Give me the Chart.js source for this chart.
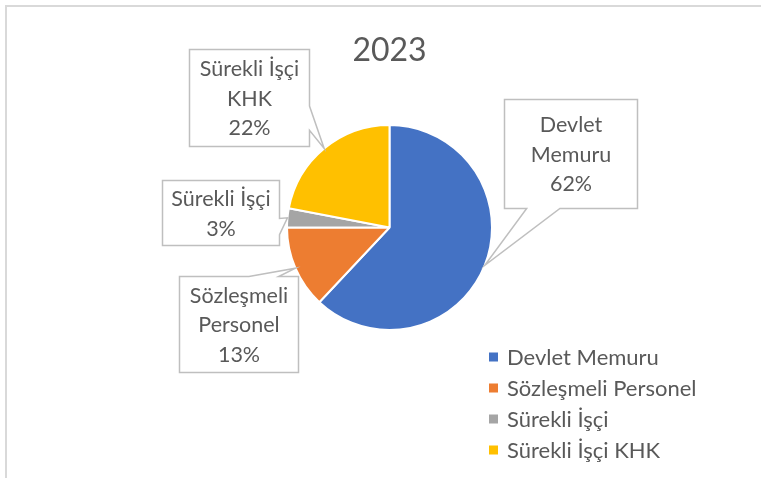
<!DOCTYPE html>
<html>
<head>
<meta charset="utf-8">
<script src="https://cdn.jsdelivr.net/npm/chart.js@4.4.0/dist/chart.umd.min.js"></script>
<style>
  html, body { margin: 0; padding: 0; background: #ffffff; }
  #wrap { width: 761px; height: 478px; position: relative; }
</style>
</head>
<body>
<div id="wrap"><canvas id="c" width="761" height="478"></canvas></div>
<script>
// ---- data ----
const categories = ['Devlet Memuru', 'Sözleşmeli Personel', 'Sürekli İşçi', 'Sürekli İşçi KHK'];
const values = [62, 13, 3, 22];
const colors = ['#4472C4', '#ED7D31', '#A5A5A5', '#FFC000'];
const chartTitle = '2023';

// ---- callout box layout (offsets from pie centre, px) ----
const calloutBoxes = [
  { dx: 115, dy: -128, w: 133, h: 109 },
  { dx: -210, dy: 49, w: 119, h: 96 },
  { dx: -227, dy: -47, w: 117, h: 65 },
  { dx: -200, dy: -178, w: 120, h: 97 }
];

const FONT = 'Lato, "Open Sans", sans-serif';
const TEXT = '#595959';

function wrapWords(ctx, text, maxW) {
  const words = text.split(' ');
  const lines = [];
  let cur = '';
  for (const w of words) {
    const t = cur ? cur + ' ' + w : w;
    if (ctx.measureText(t).width > maxW && cur) { lines.push(cur); cur = w; }
    else cur = t;
  }
  if (cur) lines.push(cur);
  return lines;
}

function calloutPath(ctx, x, y, w, h, tx, ty) {
  const cx = x + w / 2, cy = y + h / 2;
  const dx = tx - cx, dy = ty - cy;
  ctx.beginPath();
  if (Math.abs(dx) * h > Math.abs(dy) * w) {
    const y1 = dy > 0 ? y + h * 7 / 12 : y + h * 2 / 12;
    const y2 = dy > 0 ? y + h * 10 / 12 : y + h * 5 / 12;
    if (dx > 0) {
      ctx.moveTo(x, y); ctx.lineTo(x + w, y); ctx.lineTo(x + w, y1);
      ctx.lineTo(tx, ty); ctx.lineTo(x + w, y2); ctx.lineTo(x + w, y + h);
      ctx.lineTo(x, y + h); ctx.closePath();
    } else {
      ctx.moveTo(x, y); ctx.lineTo(x + w, y); ctx.lineTo(x + w, y + h);
      ctx.lineTo(x, y + h); ctx.lineTo(x, y2); ctx.lineTo(tx, ty);
      ctx.lineTo(x, y1); ctx.closePath();
    }
  } else {
    const x1 = dx > 0 ? x + w * 7 / 12 : x + w * 2 / 12;
    const x2 = dx > 0 ? x + w * 10 / 12 : x + w * 5 / 12;
    if (dy > 0) {
      ctx.moveTo(x, y); ctx.lineTo(x + w, y); ctx.lineTo(x + w, y + h);
      ctx.lineTo(x2, y + h); ctx.lineTo(tx, ty); ctx.lineTo(x1, y + h);
      ctx.lineTo(x, y + h); ctx.closePath();
    } else {
      ctx.moveTo(x, y); ctx.lineTo(x1, y); ctx.lineTo(tx, ty);
      ctx.lineTo(x2, y); ctx.lineTo(x + w, y); ctx.lineTo(x + w, y + h);
      ctx.lineTo(x, y + h); ctx.closePath();
    }
  }
}

const framePlugin = {
  id: 'frame',
  beforeDraw(chart) {
    const ctx = chart.ctx;
    ctx.save();
    ctx.fillStyle = '#ffffff';
    ctx.fillRect(0, 0, chart.width, chart.height);
    ctx.strokeStyle = '#d9d9d9';
    ctx.lineWidth = 2;
    ctx.beginPath();
    ctx.moveTo(6, chart.height);
    ctx.lineTo(6, 6);
    ctx.lineTo(chart.width, 6);
    ctx.stroke();
    ctx.restore();
  }
};

const calloutPlugin = {
  id: 'callouts',
  afterDatasetsDraw(chart) {
    const ctx = chart.ctx;
    const meta = chart.getDatasetMeta(0);
    const ds = chart.data.datasets[0].data;
    const total = ds.reduce((a, b) => a + b, 0);
    ctx.save();
    ctx.font = '21.5px ' + FONT;
    meta.data.forEach((arc, i) => {
      const p = arc.getProps(['x', 'y', 'startAngle', 'endAngle', 'outerRadius'], true);
      const mid = (p.startAngle + p.endAngle) / 2;
      const tx = p.x + Math.cos(mid) * p.outerRadius;
      const ty = p.y + Math.sin(mid) * p.outerRadius;
      const b = calloutBoxes[i];
      const bx = p.x + b.dx, by = p.y + b.dy;
      calloutPath(ctx, bx, by, b.w, b.h, tx, ty);
      ctx.fillStyle = '#ffffff';
      ctx.fill();
      ctx.strokeStyle = '#bfbfbf';
      ctx.lineWidth = 1.5;
      ctx.stroke();
      const lines = wrapWords(ctx, chart.data.labels[i], b.w - 10);
      lines.push(Math.round(ds[i] / total * 100) + '%');
      const lh = 29.5;
      ctx.fillStyle = TEXT;
      ctx.textAlign = 'center';
      ctx.textBaseline = 'middle';
      const startY = by + b.h / 2 - (lines.length - 1) * lh / 2 + 1;
      lines.forEach((t, k) => ctx.fillText(t, bx + b.w / 2, startY + k * lh));
    });
    ctx.restore();
  }
};

const legendPlugin = {
  id: 'customLegend',
  afterDraw(chart) {
    const ctx = chart.ctx;
    ctx.save();
    ctx.font = '22px ' + FONT;
    ctx.textBaseline = 'middle';
    ctx.textAlign = 'left';
    const x0 = 489, y0 = 357, step = 31;
    chart.data.labels.forEach((lab, i) => {
      const y = y0 + i * step;
      ctx.fillStyle = chart.data.datasets[0].backgroundColor[i];
      ctx.fillRect(x0, y - 4.5, 9, 9);
      ctx.fillStyle = TEXT;
      ctx.fillText(lab, x0 + 18, y + 1);
    });
    ctx.restore();
  }
};

new Chart(document.getElementById('c'), {
  type: 'pie',
  data: {
    labels: categories,
    datasets: [{
      data: values,
      backgroundColor: colors,
      borderColor: '#ffffff',
      borderWidth: 2
    }]
  },
  options: {
    responsive: false,
    animation: false,
    events: [],
    layout: { padding: { top: 0, left: 286, right: 268, bottom: 147 } },
    plugins: {
      legend: { display: false },
      tooltip: { enabled: false },
      title: {
        display: true,
        text: chartTitle,
        color: TEXT,
        font: { family: FONT, size: 32, weight: 'normal', lineHeight: 1.2 },
        padding: { top: 31, bottom: 54.6 }
      }
    }
  },
  plugins: [framePlugin, calloutPlugin, legendPlugin]
});
</script>
</body>
</html>
